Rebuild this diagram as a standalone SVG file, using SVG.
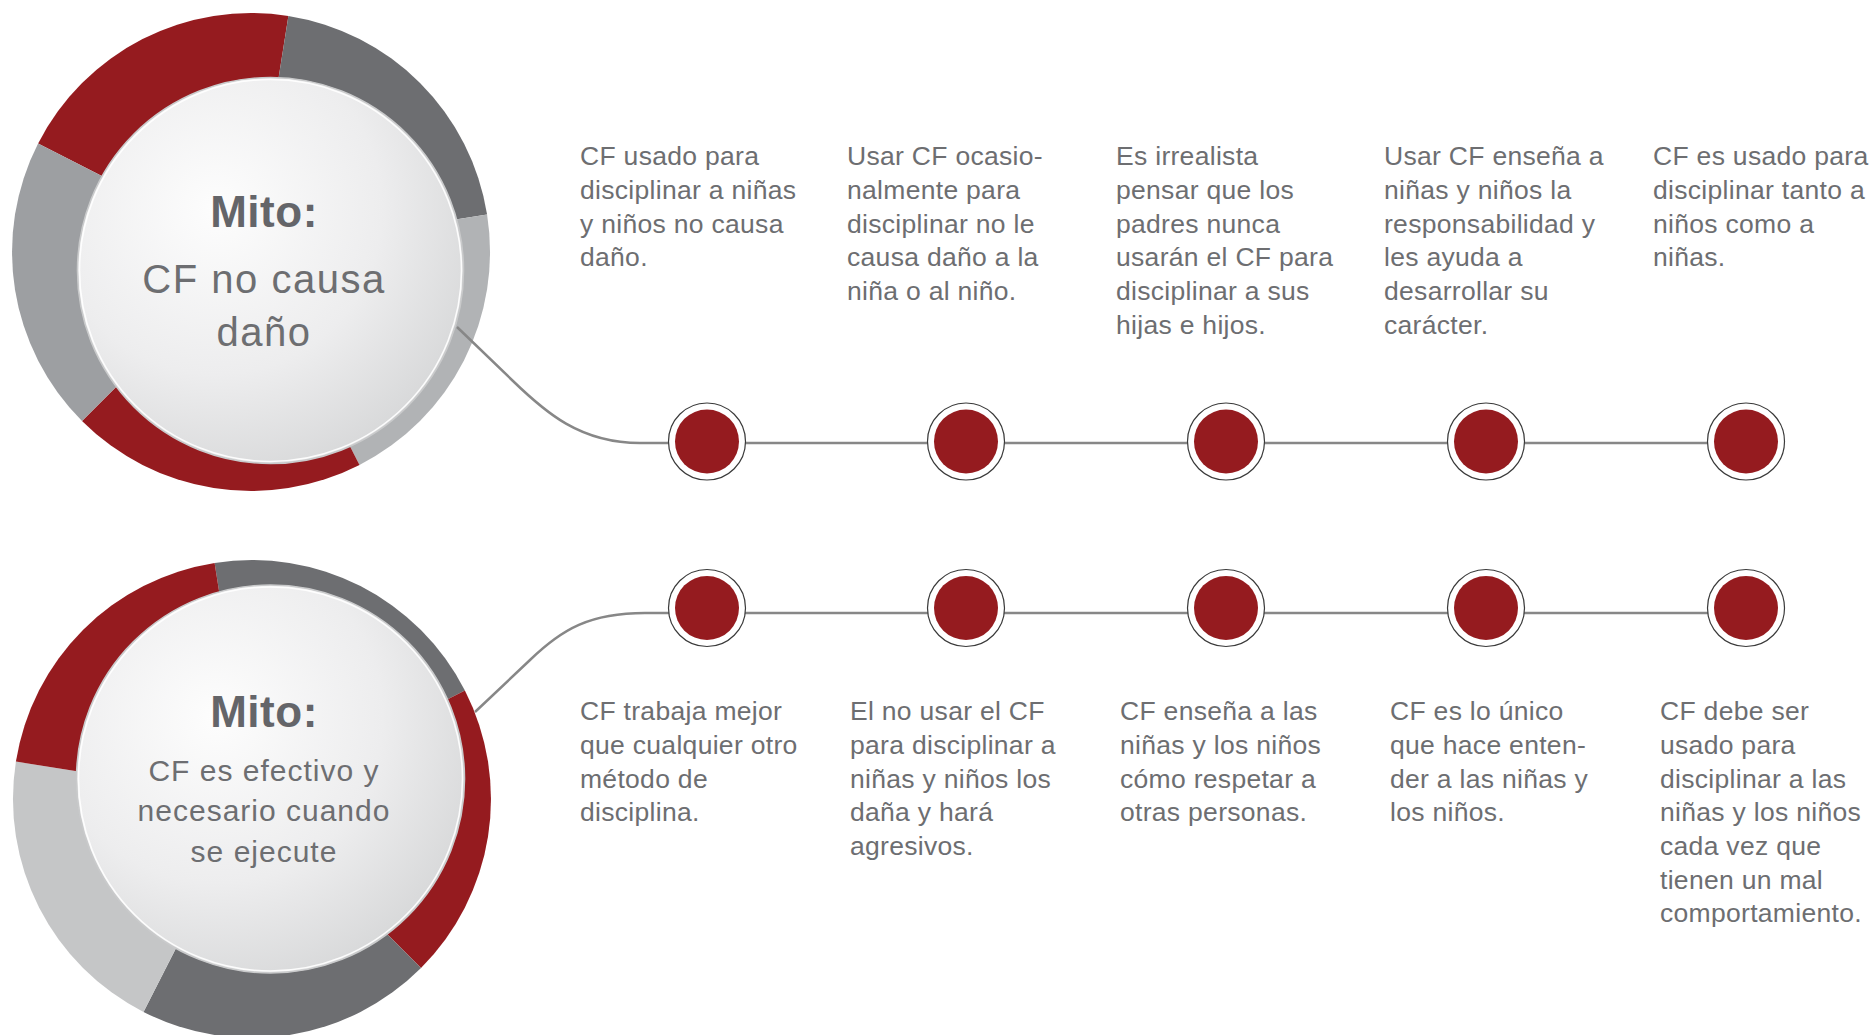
<svg xmlns="http://www.w3.org/2000/svg" width="1874" height="1035" viewBox="0 0 1874 1035">
  <defs>
    <radialGradient id="disc" cx="0.36" cy="0.34" r="0.78">
      <stop offset="0" stop-color="#fdfdfd"/>
      <stop offset="0.55" stop-color="#ededee"/>
      <stop offset="1" stop-color="#d3d4d5"/>
    </radialGradient>
    <style>
      .red { fill: #951b1f; }
      .dark { fill: #6d6e71; }
      .mid { fill: #9d9fa2; }
      .light { fill: #b1b3b5; }
      .pale { fill: #c5c6c7; }
      .disc { fill: url(#disc); stroke: #c9cacb; stroke-width: 1.6; }
      .rim { fill: none; stroke: #ffffff; stroke-width: 1.6; stroke-opacity: 0.9; }
      .title { font-family: "Liberation Sans", Arial, sans-serif; font-weight: bold; font-size: 44px; fill: #646569; text-anchor: middle; letter-spacing: 0.5px; }
      .sub1 { font-family: "Liberation Sans", Arial, sans-serif; font-size: 40px; fill: #6d6e71; text-anchor: middle; letter-spacing: 1.5px; }
      .sub2 { font-family: "Liberation Sans", Arial, sans-serif; font-size: 30px; fill: #6d6e71; text-anchor: middle; letter-spacing: 1px; }
      .body { font-family: "Liberation Sans", Arial, sans-serif; font-size: 26.5px; fill: #6d6e71; letter-spacing: 0.3px; }
      .wire { fill: none; stroke: #878787; stroke-width: 2.5; }
      .halo { fill: #ffffff; stroke: #3a3a3a; stroke-width: 1.2; }
    </style>
  </defs>

  <!-- myth 1: segmented ring with offset disc -->
  <g id="myth-1">
    <path class="red" d="M251,252 L38.1,143.5 A239,239 0 0 1 288.4,15.9 Z"/>
    <path class="dark" d="M251,252 L288.4,15.9 A239,239 0 0 1 487.1,214.6 Z"/>
    <path class="light" d="M251,252 L487.1,214.6 A239,239 0 0 1 359.5,464.9 Z"/>
    <path class="red" d="M251,252 L359.5,464.9 A239,239 0 0 1 82.0,421.0 Z"/>
    <path class="mid" d="M251,252 L82.0,421.0 A239,239 0 0 1 38.1,143.5 Z"/>
    <circle class="disc" cx="270.5" cy="270.5" r="193"/>
    <circle class="rim" cx="270.5" cy="270.5" r="191"/>
    <text class="title" x="264" y="227">Mito:</text>
    <text class="sub1" x="264" y="293">CF no causa</text>
    <text class="sub1" x="264" y="346">daño</text>
  </g>

  <!-- myth 2 -->
  <g id="myth-2">
    <path class="dark" d="M252,799 L214.6,562.9 A239,239 0 0 1 464.9,690.5 Z"/>
    <path class="red" d="M252,799 L464.9,690.5 A239,239 0 0 1 421.0,968.0 Z"/>
    <path class="dark" d="M252,799 L421.0,968.0 A239,239 0 0 1 143.5,1011.9 Z"/>
    <path class="pale" d="M252,799 L143.5,1011.9 A239,239 0 0 1 15.9,761.6 Z"/>
    <path class="red" d="M252,799 L15.9,761.6 A239,239 0 0 1 214.6,562.9 Z"/>
    <circle class="disc" cx="270.5" cy="779" r="194"/>
    <circle class="rim" cx="270.5" cy="779" r="192"/>
    <text class="title" x="264" y="727">Mito:</text>
    <text class="sub2" x="264" y="781">CF es efectivo y</text>
    <text class="sub2" x="264" y="821">necesario cuando</text>
    <text class="sub2" x="264" y="862">se ejecute</text>
  </g>

  <!-- connectors: leads from each myth disc into its timeline -->
  <g id="connectors">
    <path class="wire" d="M457,327 L513,381 C545,412 580,443 640,443 L1746,443"/>
    <path class="wire" d="M475,712 L530,660 C562,629 590,613 645,613 L1746,613"/>
  </g>

  <!-- timeline 1 points -->
  <g id="point-1-1">
    <circle class="halo" cx="707" cy="441.5" r="38.5"/>
    <circle class="red" cx="707" cy="441.5" r="32"/>
    <text class="body" x="580"><tspan x="580" y="165">CF usado para</tspan><tspan x="580" y="199">disciplinar a niñas</tspan><tspan x="580" y="233">y niños no causa</tspan><tspan x="580" y="266">daño.</tspan></text>
  </g>
  <g id="point-1-2">
    <circle class="halo" cx="966" cy="441.5" r="38.5"/>
    <circle class="red" cx="966" cy="441.5" r="32"/>
    <text class="body" x="847"><tspan x="847" y="165">Usar CF ocasio-</tspan><tspan x="847" y="199">nalmente para</tspan><tspan x="847" y="233">disciplinar no le</tspan><tspan x="847" y="266">causa daño a la</tspan><tspan x="847" y="300">niña o al niño.</tspan></text>
  </g>
  <g id="point-1-3">
    <circle class="halo" cx="1226" cy="441.5" r="38.5"/>
    <circle class="red" cx="1226" cy="441.5" r="32"/>
    <text class="body" x="1116"><tspan x="1116" y="165">Es irrealista</tspan><tspan x="1116" y="199">pensar que los</tspan><tspan x="1116" y="233">padres nunca</tspan><tspan x="1116" y="266">usarán el CF para</tspan><tspan x="1116" y="300">disciplinar a sus</tspan><tspan x="1116" y="334">hijas e hijos.</tspan></text>
  </g>
  <g id="point-1-4">
    <circle class="halo" cx="1486" cy="441.5" r="38.5"/>
    <circle class="red" cx="1486" cy="441.5" r="32"/>
    <text class="body" x="1384"><tspan x="1384" y="165">Usar CF enseña a</tspan><tspan x="1384" y="199">niñas y niños la</tspan><tspan x="1384" y="233">responsabilidad y</tspan><tspan x="1384" y="266">les ayuda a</tspan><tspan x="1384" y="300">desarrollar su</tspan><tspan x="1384" y="334">carácter.</tspan></text>
  </g>
  <g id="point-1-5">
    <circle class="halo" cx="1746" cy="441.5" r="38.5"/>
    <circle class="red" cx="1746" cy="441.5" r="32"/>
    <text class="body" x="1653"><tspan x="1653" y="165">CF es usado para</tspan><tspan x="1653" y="199">disciplinar tanto a</tspan><tspan x="1653" y="233">niños como a</tspan><tspan x="1653" y="266">niñas.</tspan></text>
  </g>

  <!-- timeline 2 points -->
  <g id="point-2-1">
    <circle class="halo" cx="707" cy="608" r="38.5"/>
    <circle class="red" cx="707" cy="608" r="32"/>
    <text class="body" x="580"><tspan x="580" y="720">CF trabaja mejor</tspan><tspan x="580" y="754">que cualquier otro</tspan><tspan x="580" y="788">método de</tspan><tspan x="580" y="821">disciplina.</tspan></text>
  </g>
  <g id="point-2-2">
    <circle class="halo" cx="966" cy="608" r="38.5"/>
    <circle class="red" cx="966" cy="608" r="32"/>
    <text class="body" x="850"><tspan x="850" y="720">El no usar el CF</tspan><tspan x="850" y="754">para disciplinar a</tspan><tspan x="850" y="788">niñas y niños los</tspan><tspan x="850" y="821">daña y hará</tspan><tspan x="850" y="855">agresivos.</tspan></text>
  </g>
  <g id="point-2-3">
    <circle class="halo" cx="1226" cy="608" r="38.5"/>
    <circle class="red" cx="1226" cy="608" r="32"/>
    <text class="body" x="1120"><tspan x="1120" y="720">CF enseña a las</tspan><tspan x="1120" y="754">niñas y los niños</tspan><tspan x="1120" y="788">cómo respetar a</tspan><tspan x="1120" y="821">otras personas.</tspan></text>
  </g>
  <g id="point-2-4">
    <circle class="halo" cx="1486" cy="608" r="38.5"/>
    <circle class="red" cx="1486" cy="608" r="32"/>
    <text class="body" x="1390"><tspan x="1390" y="720">CF es lo único</tspan><tspan x="1390" y="754">que hace enten-</tspan><tspan x="1390" y="788">der a las niñas y</tspan><tspan x="1390" y="821">los niños.</tspan></text>
  </g>
  <g id="point-2-5">
    <circle class="halo" cx="1746" cy="608" r="38.5"/>
    <circle class="red" cx="1746" cy="608" r="32"/>
    <text class="body" x="1660"><tspan x="1660" y="720">CF debe ser</tspan><tspan x="1660" y="754">usado para</tspan><tspan x="1660" y="788">disciplinar a las</tspan><tspan x="1660" y="821">niñas y los niños</tspan><tspan x="1660" y="855">cada vez que</tspan><tspan x="1660" y="889">tienen un mal</tspan><tspan x="1660" y="922">comportamiento.</tspan></text>
  </g>
</svg>
